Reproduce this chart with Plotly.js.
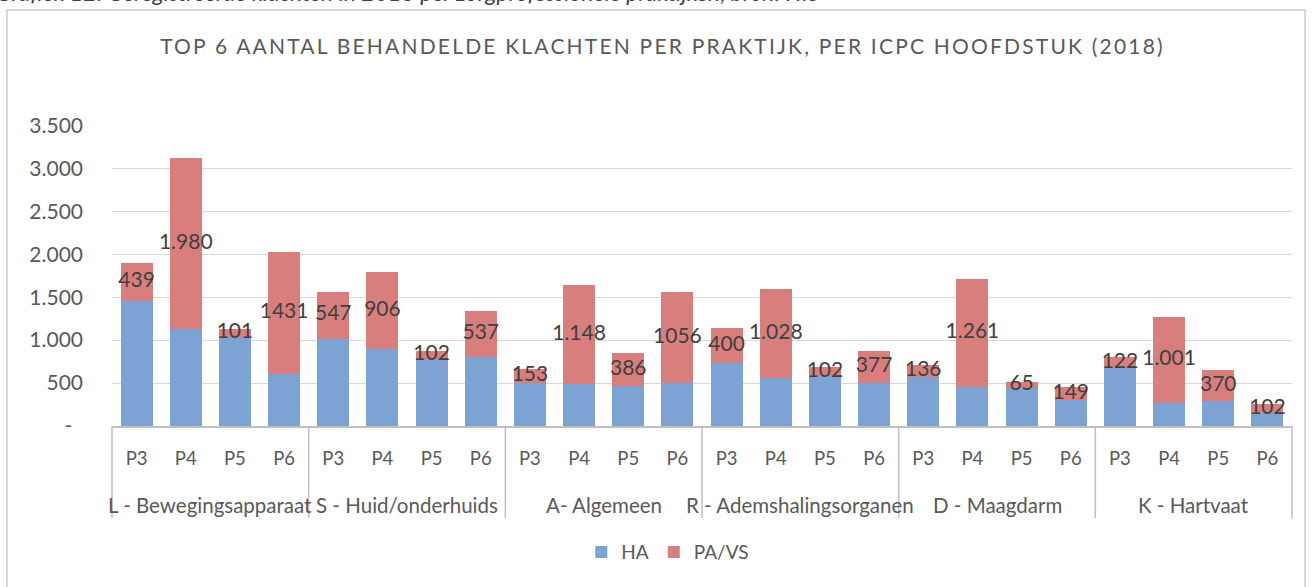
<!DOCTYPE html>
<html>
<head>
<meta charset="utf-8">
<script src="https://cdn.plot.ly/plotly-3.0.1.min.js"></script>
<style>
  html, body { margin: 0; padding: 0; background: #ffffff; width: 1312px; height: 587px; overflow: hidden; }
  #caption { position: absolute; left: -4px; top: -22px; font-family: Lato, sans-serif; font-style: italic; font-size: 23px; color: #404040; white-space: nowrap; }
  #frame { position: absolute; left: 6px; top: 9px; width: 1300px; height: 600px; border: 2px solid #d9d9d9; box-sizing: border-box; background: #ffffff; }
  #chart { position: absolute; left: 0; top: 0; width: 1312px; height: 587px; }
  .gtitle { letter-spacing: 2.2px; }
</style>
</head>
<body>
<div id="caption">Grafiek 12: Geregistreerde klachten in 2018 per zorgprofessionele praktijken, bron: HIS</div>
<div id="frame"></div>
<div id="chart"></div>
<script>
// Data
const groups = ["L - Bewegingsapparaat", "S - Huid/onderhuids", "A- Algemeen", "R - Ademshalingsorganen", "D - Maagdarm", "K - Hartvaat"];
const practices = ["P3", "P4", "P5", "P6"];
const haValues = [1458, 1135, 1032, 600,  1018, 892, 776, 800,  505, 493, 467, 500,  736, 563, 585, 498,  576, 455, 448, 300,  680, 272, 286, 150];
const paValues = [439, 1980, 101, 1431,  547, 906, 102, 537,  153, 1148, 386, 1056,  400, 1028, 102, 377,  136, 1261, 65, 149,  122, 1001, 370, 102];
const paLabels = ["439", "1.980", "101", "1431",  "547", "906", "102", "537",  "153", "1.148", "386", "1056",  "400", "1.028", "102", "377",  "136", "1.261", "65", "149",  "122", "1.001", "370", "102"];
const yTickVals = [0, 500, 1000, 1500, 2000, 2500, 3000, 3500];
const yTickText = ["-\u00a0\u00a0", "500", "1.000", "1.500", "2.000", "2.500", "3.000", "3.500"];
const seriesNames = ["HA", "PA/VS"];

// Positions on the category axis: one slot per (group, practice)
const innerLabels = [], xIdx = [];
groups.forEach((g, gi) => practices.forEach((p, pi) => { innerLabels.push(p); xIdx.push(gi * practices.length + pi); }));
const nCats = xIdx.length;
const labelY = haValues.map((h, i) => h + paValues[i] / 2);

const font = "Lato, 'Open Sans', sans-serif";

const traces = [
  { type: "bar", name: seriesNames[0], x: xIdx, y: haValues, marker: { color: "#7DA3D4" }, hoverinfo: "skip" },
  { type: "bar", name: seriesNames[1], x: xIdx, y: paValues, marker: { color: "#D87F7E" }, hoverinfo: "skip" },
  { type: "scatter", mode: "text", x: xIdx, y: labelY, text: paLabels, showlegend: false, hoverinfo: "skip",
    textposition: "middle center", textfont: { family: font, size: 21, color: "#404040" }, cliponaxis: false }
];

// Group labels and dividers of the two-level category axis
const groupAnnotations = groups.map((g, gi) => ({
  text: g, xref: "x", yref: "paper", x: gi * practices.length + (practices.length - 1) / 2, y: -0.2625,
  xanchor: "center", yanchor: "middle", showarrow: false, font: { family: font, size: 20.5, color: "#595959" }
}));
const dividerShapes = [];
for (let gi = 0; gi <= groups.length; gi++) {
  const px = gi * practices.length / nCats;
  dividerShapes.push({ type: "line", xref: "paper", yref: "paper", x0: px, x1: px, y0: 0, y1: -0.3056,
                       line: { color: "#bfbfbf", width: 1.5 } });
}

const layout = {
  width: 1312, height: 587,
  paper_bgcolor: "rgba(0,0,0,0)", plot_bgcolor: "rgba(0,0,0,0)",
  margin: { l: 112, r: 20, t: 125, b: 161 },
  barmode: "stack", bargap: 0.35,
  font: { family: font, color: "#595959" },
  title: { text: "TOP 6 AANTAL BEHANDELDE KLACHTEN PER PRAKTIJK, PER ICPC HOOFDSTUK (2018)",
           font: { family: font, size: 21, color: "#595959" },
           x: 0.505, xref: "container", y: 1 - 47 / 587, yref: "container", yanchor: "middle", xanchor: "center" },
  xaxis: { type: "linear", range: [-0.5, nCats - 0.5], autorange: false, tickvals: xIdx, ticktext: innerLabels,
           showline: true, linecolor: "#bfbfbf", linewidth: 1.5, ticklabelstandoff: 15, zeroline: false,
           tickfont: { family: font, size: 18.5, color: "#595959" }, ticks: "", showgrid: false },
  yaxis: { range: [0, 3505], autorange: false, tickvals: yTickVals, ticktext: yTickText, showgrid: true, gridcolor: "#d9d9d9",
           gridwidth: 1, zeroline: false, showline: false, ticks: "", ticklabelstandoff: 28,
           tickfont: { family: font, size: 21, color: "#595959" } },
  legend: { orientation: "h", x: 0.471, xanchor: "center", y: -0.419, yanchor: "middle",
            font: { family: font, size: 19, color: "#595959" }, traceorder: "normal", itemwidth: 30 },
  annotations: groupAnnotations,
  shapes: dividerShapes,
  showlegend: true
};

Plotly.newPlot("chart", traces, layout, { displayModeBar: false, staticPlot: true });
</script>
</body>
</html>
